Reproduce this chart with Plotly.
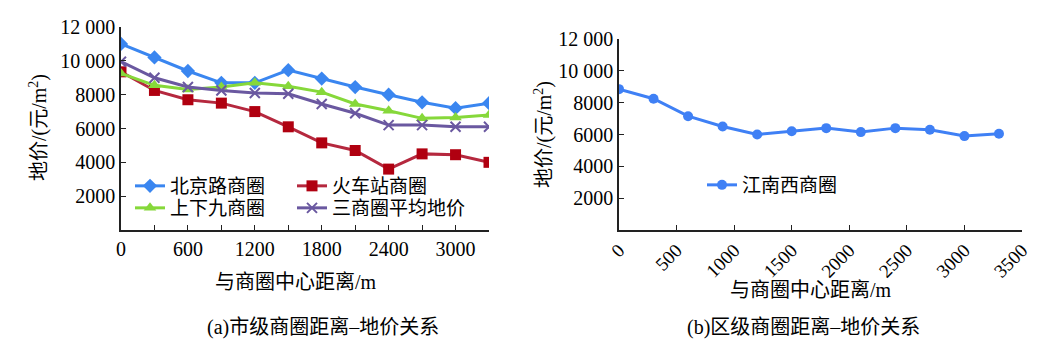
import plotly.graph_objects as go

# ---- data ----
dist_a = [0, 300, 600, 900, 1200, 1500, 1800, 2100, 2400, 2700, 3000, 3300]
beijinglu = [11000, 10200, 9400, 8700, 8700, 9450, 8950, 8450, 8000, 7550, 7200, 7500]
huochezhan = [9350, 8250, 7700, 7500, 7000, 6100, 5150, 4700, 3600, 4500, 4450, 4000]
shangxiajiu = [9250, 8550, 8300, 8450, 8700, 8500, 8150, 7450, 7050, 6600, 6650, 6800]
average3 = [9950, 9000, 8450, 8250, 8100, 8050, 7450, 6900, 6200, 6200, 6100, 6100]

dist_b = [0, 300, 600, 900, 1200, 1500, 1800, 2100, 2400, 2700, 3000, 3300]
jiangnanxi = [8850, 8250, 7150, 6500, 6000, 6200, 6400, 6150, 6400, 6300, 5900, 6050]

ytick_vals = [2000, 4000, 6000, 8000, 10000, 12000]
ytick_text = ["2000", "4000", "6000", "8000", "10 000", "12 000"]
xa_tick_vals = [0, 600, 1200, 1800, 2400, 3000]
xa_tick_text = ["0", "600", "1200", "1800", "2400", "3000"]
xb_tick_vals = [0, 500, 1000, 1500, 2000, 2500, 3000, 3500]
xb_tick_text = ["0", "500", "1000", "1500", "2000", "2500", "3000", "3500"]

W, H = 1062, 354
FONT = "Liberation Serif, Noto Sans CJK SC, serif"

def px(x):
    return x / W

def py(y):
    return 1 - y / H

fig = go.Figure()

fig.add_trace(go.Scatter(x=dist_a, y=beijinglu, name="北京路商圈", mode="lines+markers",
                         line=dict(color="#3a86f0", width=3),
                         marker=dict(symbol="diamond", size=11, color="#3a86f0"),
                         xaxis="x", yaxis="y", legend="legend"))
fig.add_trace(go.Scatter(x=dist_a, y=huochezhan, name="火车站商圈", mode="lines+markers",
                         line=dict(color="#b5283e", width=3),
                         marker=dict(symbol="square", size=11, color="#b00010"),
                         xaxis="x", yaxis="y", legend="legend2"))
fig.add_trace(go.Scatter(x=dist_a, y=shangxiajiu, name="上下九商圈", mode="lines+markers",
                         line=dict(color="#86d83a", width=3),
                         marker=dict(symbol="triangle-up", size=11, color="#86d83a"),
                         xaxis="x", yaxis="y", legend="legend3"))
fig.add_trace(go.Scatter(x=dist_a, y=average3, name="三商圈平均地价", mode="lines+markers",
                         line=dict(color="#6a58a0", width=3),
                         marker=dict(symbol="x-thin", size=10, color="#6a58a0",
                                     line=dict(color="#6a58a0", width=2)),
                         xaxis="x", yaxis="y", legend="legend4"))
fig.add_trace(go.Scatter(x=dist_b, y=jiangnanxi, name="江南西商圈", mode="lines+markers",
                         line=dict(color="#3f80f5", width=3),
                         marker=dict(symbol="circle", size=10, color="#3f80f5"),
                         xaxis="x2", yaxis="y2", legend="legend5"))

axis_common = dict(showline=True, linecolor="#222", linewidth=1.5, ticks="inside",
                   ticklen=5, tickcolor="#222", tickwidth=1.2, showgrid=False,
                   zeroline=False, automargin=False,
                   tickfont=dict(family=FONT, size=20, color="#000"))

def leg(x, y):
    return dict(orientation="h", x=px(x), y=py(y), xanchor="left", yanchor="middle",
                bgcolor="rgba(0,0,0,0)", font=dict(family=FONT, size=19, color="#000"))

fig.update_layout(
    width=W, height=H, margin=dict(l=0, r=0, t=0, b=0),
    paper_bgcolor="white", plot_bgcolor="white",
    font=dict(family=FONT, size=19, color="#000"),
    xaxis=dict(domain=[px(121), px(489)], range=[0, 3300], tickvals=xa_tick_vals,
               ticktext=xa_tick_text, anchor="y",
               minor=dict(tick0=0, dtick=300, ticks="inside", ticklen=5,
                          tickcolor="#222", tickwidth=1.2, showgrid=False),
               **axis_common),
    yaxis=dict(domain=[py(230), py(27)], range=[0, 12000], tickvals=ytick_vals,
               ticktext=ytick_text, anchor="x", **axis_common),
    xaxis2=dict(domain=[px(619), px(1022)], range=[0, 3500], tickvals=xb_tick_vals,
                ticktext=xb_tick_text, tickangle=-45, anchor="y2",
                **{**axis_common, "tickfont": dict(family=FONT, size=19, color="#000")}),
    yaxis2=dict(domain=[py(230), py(39)], range=[0, 12000], tickvals=ytick_vals,
                ticktext=ytick_text, anchor="x2", **axis_common),
    legend=leg(130, 186),
    legend2=leg(292, 186),
    legend3=leg(130, 208),
    legend4=leg(292, 208),
    legend5=leg(702, 185),
    showlegend=True,
)

ann = dict(showarrow=False, xref="paper", yref="paper", xanchor="center", yanchor="middle",
           font=dict(family=FONT, size=20, color="#000"))
fig.add_annotation(text="地价/(元/m<sup>2</sup>)", x=px(38), y=py(128), textangle=-90, **ann)
fig.add_annotation(text="地价/(元/m<sup>2</sup>)", x=px(543), y=py(135), textangle=-90, **ann)
fig.add_annotation(text="与商圈中心距离/m", x=px(296), y=py(282), **ann)
fig.add_annotation(text="与商圈中心距离/m", x=px(811), y=py(290), **ann)
fig.add_annotation(text="(a)市级商圈距离–地价关系", x=px(323), y=py(327), **ann)
fig.add_annotation(text="(b)区级商圈距离–地价关系", x=px(803), y=py(327), **ann)

fig.write_html("out.html")
